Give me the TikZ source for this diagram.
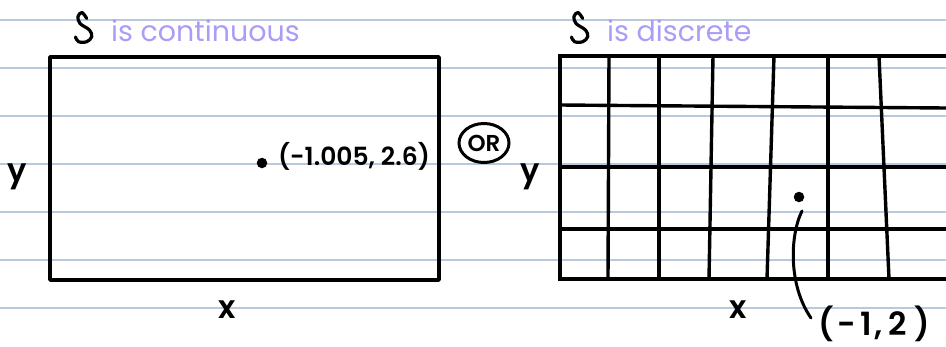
\documentclass[tikz,border=0pt]{standalone}
\usepackage{fontspec}
\setmainfont{Poppins}[BoldFont={Poppins SemiBold}]
\usetikzlibrary{shapes.geometric}
\definecolor{ruling}{HTML}{BAC8DC}
\definecolor{lilac}{HTML}{A99EF6}
\tikzset{
  ruled/.style={ruling, line width=2.2pt},
  ink/.style={black, line width=3.6pt, line cap=round, line join=round},
  gridline/.style={black, line width=3.4pt},
  hand/.style={inner sep=0pt, font=\fontsize{25}{25}\bfseries},
  title/.style={inner sep=0pt, lilac, font=\fontsize{28.5}{28.5}\selectfont},
  pt/.style={circle, fill=black, inner sep=0pt, minimum size=10.5pt}
}
\begin{document}
\begin{tikzpicture}[x=1pt,y=-1pt]
  \useasboundingbox (0,0) rectangle (946,346);
  % notebook ruling
  \foreach \yy in {20,68,116,164,212,260,308}
    \draw[ruled] (0,\yy) -- (946,\yy);

  % ---------- continuous sample space ----------
  \draw[ink, line width=3.2pt] plot[smooth, tension=0.6] coordinates
    {(86.7,18.5) (82,12.5) (78,16.5) (80,23.5) (89.5,30) (91.7,36.7) (86.7,41.7) (78.5,41.7) (75.5,37)};
  \node[title, anchor=base west] (tL) at (111,41) {is continuous};
  \draw[ink] (50,57) rectangle (439,280);
  \node[pt] (pL) at (262,163) {};
  \node[hand] (lL) at (354,156) {(-1.005, 2.6)};
  \node[hand, font=\fontsize{32}{32}\bfseries] (yL) at (17,177) {y};
  \node[hand, font=\fontsize{32}{32}\bfseries] (xL) at (227,310) {x};

  % the word between both panels
  \node[draw, ellipse, line width=3pt, inner sep=0pt, minimum width=50pt, minimum height=39pt,
        font=\fontsize{23}{23}\bfseries] (or) at (484,143) {OR};

  % ---------- discrete sample space ----------
  \draw[ink, line width=3.2pt, xshift=496pt] plot[smooth, tension=0.6] coordinates
    {(86.7,18.5) (82,12.5) (78,16.5) (80,23.5) (89.5,30) (91.7,36.7) (86.7,41.7) (78.5,41.7) (75.5,37)};
  \node[title, anchor=base west] (tR) at (607,41) {is discrete};
  \node[hand, font=\fontsize{32}{32}\bfseries] (yR) at (530,177) {y};
  \node[hand, font=\fontsize{32}{32}\bfseries] (xR) at (738,310) {x};
  % outer frame (open on the right)
  \draw[gridline] (946,56) -- (560,56) -- (560,279) -- (946,279);
  % rows
  \draw[gridline] (560,105) -- (946,108);
  \draw[gridline] (560,167) -- (946,167);
  \draw[gridline] (560,229) -- (946,229);
  % columns, slightly uneven as drawn by hand
  \draw[gridline] (609,56) -- (608,279);
  \draw[gridline] (659,56) -- (659,279);
  \draw[gridline] (713,56) -- (709,279);
  \draw[gridline] (774,56) -- (767,279);
  \draw[gridline] (828,56) -- (828,279);
  \draw[gridline] (879,56) -- (889,279);
  \node[pt] (pR) at (799,197) {};
  \coordinate (cStart) at (802,211);
  \node[hand, font=\fontsize{32}{32}\bfseries] (lR) at (874,324) {(\kern4pt-\kern4pt1\kern3pt,\kern6pt2\kern7pt)};
  \coordinate (cEnd) at (811,318);
  \draw[ink, line width=3pt] (cStart) .. controls (790,235) and (788,285) .. (cEnd);
\end{tikzpicture}
\end{document}
